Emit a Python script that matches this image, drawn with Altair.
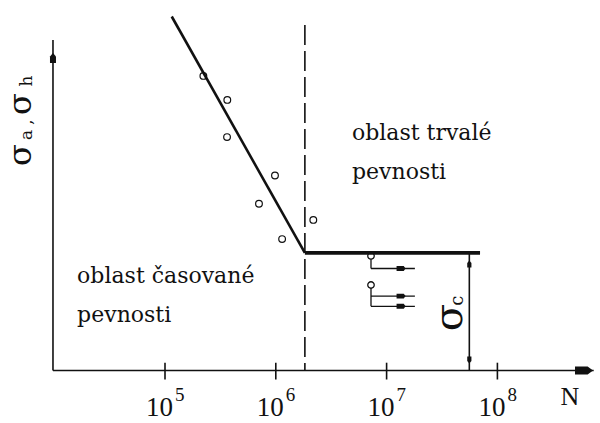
import altair as alt
import pandas as pd

# Fatigue tests: cycles to failure and stress amplitude
fail_cycles = [2.22e5, 3.65e5, 3.63e5, 9.83e5, 7.05e5, 2.18e6, 1.14e6]
fail_stress = [491, 451, 389, 325, 278, 251, 219]

# Woehler curve: sloping branch down to the knee, then the fatigue limit
slope_cycles = [1.15e5, 1.83e6]
slope_stress = [590, 196]
knee_cycles = 1.83e6
limit_end_cycles = 6.97e7
sigma_c = 196
sigma_c_cycles = 5.58e7

# Run-out specimens (no failure) with their arrows
runout_cycles = [7.23e6, 7.23e6]
runout_stress = [191, 142.5]
runout_stem_low = [170, 107]
runout_arrow_stress = [170, 124, 107]
runout_arrow_from = 7.23e6
runout_arrow_to = 1.8e7
runout_head_cycles = 1.35e7

# Decades on the cycle axis
decades = [1e5, 1e6, 1e7, 1e8]
decade_exp = ["5", "6", "7", "8"]

# Frame of the diagram
origin_cycles = 9.75e3
axis_end_cycles = 7.4e8
axis_head_cycles = 6.05e8
axis_top_stress = 551
axis_head_stress = 521
dash_top_stress = 576

ink = "#111111"
text_font = "DejaVu Serif"
num_font = "Liberation Serif"

xs = alt.Scale(type="log", domain=[3242, 8.433e8], nice=False)
ys = alt.Scale(type="linear", domain=[-87.5, 617.5], nice=False, zero=False)


def X(f):
    return alt.X(f, type="quantitative", scale=xs, axis=None)


def Y(f):
    return alt.Y(f, type="quantitative", scale=ys, axis=None)


def segments(rows, dash=None):
    df = pd.DataFrame(rows, columns=["x1", "y1", "x2", "y2", "w"])
    kw = {"strokeDash": dash} if dash else {}
    return alt.Chart(df).mark_rule(color=ink, strokeCap="butt", **kw).encode(
        x=X("x1"), y=Y("y1"), x2="x2:Q", y2="y2:Q",
        strokeWidth=alt.StrokeWidth("w:Q", scale=None),
    )


def heads(cyc, st, path, size):
    df = pd.DataFrame({"N": cyc, "S": st})
    return alt.Chart(df).mark_point(
        shape=path, filled=True, color=ink, size=size, strokeWidth=0, opacity=1
    ).encode(x=X("N"), y=Y("S"))


# axes, ticks, fatigue-limit marker lines
frame_rows = [
    (origin_cycles, 0, origin_cycles, axis_top_stress, 1.6),
    (origin_cycles, 0, axis_end_cycles, 0, 1.6),
    (sigma_c_cycles, sigma_c, sigma_c_cycles, 0, 1.6),
]
frame_rows += [(d, -15, d, 13, 1.6) for d in decades]
frame_rows += [(c, s, c, lo, 1.3) for c, s, lo in zip(runout_cycles, runout_stress, runout_stem_low)]
frame_rows += [(runout_arrow_from, s, runout_arrow_to, s, 1.3) for s in runout_arrow_stress]
frame = segments(frame_rows)

dashed = segments([(knee_cycles, dash_top_stress, knee_cycles, 0, 1.6)], dash=[20, 6])

curve = segments([
    (slope_cycles[0], slope_stress[0], slope_cycles[1], slope_stress[1], 2.6),
    (knee_cycles, sigma_c, limit_end_cycles, sigma_c, 3.6),
])

runouts = alt.Chart(pd.DataFrame({"N": runout_cycles, "S": runout_stress})).mark_point(
    shape="circle", filled=True, fill="white", stroke=ink, strokeWidth=1.3, size=42, opacity=1
).encode(x=X("N"), y=Y("S"))

points = alt.Chart(pd.DataFrame({"N": fail_cycles, "S": fail_stress})).mark_point(
    shape="circle", filled=False, color=ink, strokeWidth=1.2, size=45, opacity=1
).encode(x=X("N"), y=Y("S"))

up_head = "M0,-1L0.6,-0.3L0.6,1L-0.6,1L-0.6,-0.3Z"
down_head = "M0,1L0.6,0.3L0.6,-1L-0.6,-1L-0.6,0.3Z"
right_head = "M1,0L0.4,-0.45L-1,-0.45L-1,0.45L0.4,0.45Z"
run_head = "M1,0L0.6,-0.55L-1,-0.55L-1,0.55L0.6,0.55Z"

arrowheads = [
    heads([origin_cycles], [axis_head_stress], up_head, 100),
    heads([axis_head_cycles], [0], right_head, 324),
    heads([sigma_c_cycles], [177.5], up_head, 49),
    heads([sigma_c_cycles], [17.5], down_head, 49),
    heads([runout_head_cycles] * 3, runout_arrow_stress, run_head, 81),
]

# decade labels 10^n
dec_df = pd.DataFrame({"N": decades, "S": [-75.8] * 4, "base": ["10"] * 4, "exp": decade_exp})
dec_base = alt.Chart(dec_df).mark_text(
    font=num_font, fontSize=27, align="right", baseline="alphabetic", dx=8, color=ink
).encode(x=X("N"), y=Y("S"), text="base:N")
dec_exp = alt.Chart(dec_df).mark_text(
    font=num_font, fontSize=19, align="left", baseline="alphabetic", dx=10, dy=-15, color=ink
).encode(x=X("N"), y=Y("S"), text="exp:N")

n_label = alt.Chart(pd.DataFrame({"N": [4.52e8], "S": [-57.5], "t": ["N"]})).mark_text(
    font=num_font, fontSize=26, align="center", baseline="alphabetic", color=ink
).encode(x=X("N"), y=Y("S"), text="t:N")

# region descriptions
regions = pd.DataFrame({
    "N": [4.87e6, 4.87e6, 1.61e4, 1.61e4],
    "S": [384, 319, 146, 81],
    "t": ["oblast trvalé", "pevnosti", "oblast časované", "pevnosti"],
})
region_text = alt.Chart(regions).mark_text(
    font=text_font, fontSize=22, align="left", baseline="alphabetic", color=ink
).encode(x=X("N"), y=Y("S"), text="t:N")

# sigma_c label beside the double arrow
sc_df = pd.DataFrame({"N": [sigma_c_cycles], "S": [sigma_c / 2]})
sc_sigma = alt.Chart(sc_df).mark_text(
    font=text_font, fontSize=40, align="center", baseline="alphabetic", angle=270,
    dx=-6, dy=-7, color=ink, text="σ"
).encode(x=X("N"), y=Y("S"))
sc_sub = alt.Chart(sc_df).mark_text(
    font=text_font, fontSize=18, align="center", baseline="alphabetic", angle=270,
    dx=11, dy=-6, color=ink, text="c"
).encode(x=X("N"), y=Y("S"))

# stress axis title: sigma_a , sigma_h
title_glyphs = [("σ", 31, 155, 32), ("a", 32, 135, 17), (",", 32, 122, 17),
                ("σ", 31, 104, 32), ("h", 32, 81, 17)]
title_layers = [
    alt.Chart(pd.DataFrame({"t": [g]})).mark_text(
        font=text_font, fontSize=fs, align="center", baseline="alphabetic", angle=270, color=ink
    ).encode(x=alt.value(px), y=alt.value(py), text="t:N")
    for g, px, py, fs in title_glyphs
]

chart = alt.layer(
    frame, dashed, runouts, curve, points, *arrowheads,
    dec_base, dec_exp, n_label, region_text, sc_sigma, sc_sub, *title_layers,
).properties(
    width=600, height=423, padding=0, autosize=alt.AutoSizeParams(type="none"),
    background="white",
).configure_view(stroke=None)

chart.save("out.html", embed_options={"renderer": "svg", "actions": False})
